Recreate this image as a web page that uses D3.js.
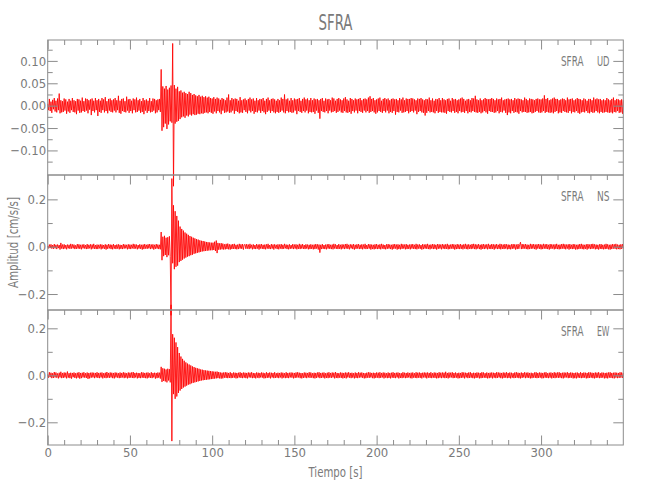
<!DOCTYPE html>
<html><head><meta charset="utf-8">
<script src="https://cdn.jsdelivr.net/npm/d3@7"></script>
<style>
html,body{margin:0;padding:0;background:#fff;}
text{font-family:"Liberation Sans Narrow","DejaVu Sans Condensed","Liberation Sans",sans-serif;fill:#7a7a7a;}
</style></head><body>
<svg id="c" width="650" height="500"></svg>
<script>
// ---- data (cm/s/s), one sample every 0.5 s starting at t = 0 s ----
const sampleInterval = 0.5;
const channels = ["UD", "NS", "EW"];
const station = "SFRA";
const ud = [
.004,-.010,.015,-.012,.009,-.016,.013,-.008,.017,-.013,.011,-.015,.016,-.010,.027,-.017,.012,-.015,.010,-.014,
.016,-.011,.014,-.018,.009,-.013,.015,-.016,.011,-.010,.017,-.014,.012,-.015,.010,-.019,.015,-.011,.014,-.016,
.011,-.015,.018,-.012,.010,-.014,.016,-.011,.015,-.017,.012,-.009,.014,-.021,.016,-.012,.011,-.015,.017,-.010,
.012,-.023,.015,-.014,.011,-.016,.017,-.010,.014,-.015,.019,-.012,.010,-.017,.015,-.011,.016,-.014,.012,-.015,
.014,-.011,.017,-.015,.012,-.010,.022,-.016,.011,-.018,.015,-.012,.016,-.014,.010,-.015,.020,-.011,.014,-.016,
.015,-.012,.011,-.017,.016,-.010,.014,-.015,.018,-.014,.012,-.011,.015,-.016,.010,-.014,.017,-.019,.012,-.011,
.014,-.016,.011,-.012,.017,-.015,.010,-.014,.016,-.011,.015,-.017,.012,-.015,.014,-.010,.015,-.014,.081,-.056,
.043,-.048,.038,-.040,.044,-.052,.036,-.042,.040,-.035,.045,-.038,.139,-.180,.046,-.040,.038,-.036,.042,-.034,
.032,-.030,.034,-.026,.029,-.024,.031,-.027,.028,-.022,.026,-.024,.031,-.020,.028,-.022,.024,-.019,.026,-.021,
.023,-.020,.021,-.018,.024,-.019,.020,-.017,.022,-.018,.019,-.016,.021,-.015,.018,-.017,.020,-.014,.017,-.016,
.016,-.018,.019,-.013,.015,-.017,.018,-.012,.016,-.015,.013,-.019,.017,-.011,.015,-.016,.012,-.015,.018,-.013,
.025,-.016,.012,-.015,.017,-.011,.014,-.018,.016,-.012,.015,-.014,.011,-.017,.019,-.015,.012,-.016,.014,-.010,
.016,-.014,.012,-.017,.015,-.011,.018,-.015,.014,-.012,.016,-.018,.011,-.014,.017,-.015,.012,-.011,.015,-.016,
.014,-.012,.017,-.015,.011,-.019,.015,-.014,.018,-.011,.012,-.016,.015,-.012,.016,-.015,.014,-.017,.011,-.014,
.015,-.016,.012,-.014,.018,-.011,.015,-.015,.025,-.017,.014,-.012,.016,-.015,.011,-.014,.017,-.016,.012,-.015,
.016,-.011,.014,-.019,.015,-.012,.017,-.014,.011,-.016,.015,-.012,.018,-.015,.014,-.011,.016,-.017,.012,-.014,
.017,-.015,.012,-.014,.016,-.018,.014,-.011,.015,-.016,.012,-.029,.015,-.012,.017,-.014,.011,-.015,.016,-.012,
.014,-.017,.015,-.011,.012,-.015,.018,-.014,.016,-.012,.011,-.016,.015,-.014,.017,-.011,.014,-.015,.012,-.016,
.016,-.012,.019,-.015,.014,-.016,.011,-.014,.017,-.018,.015,-.012,.012,-.015,.016,-.011,.014,-.017,.015,-.012,
.017,-.014,.012,-.016,.015,-.011,.016,-.015,.014,-.012,.018,-.016,.021,-.014,.015,-.012,.017,-.015,.012,-.018,
.014,-.015,.016,-.012,.018,-.014,.011,-.016,.015,-.012,.017,-.015,.014,-.011,.016,-.017,.012,-.014,.015,-.016,
.016,-.012,.014,-.020,.015,-.014,.012,-.015,.017,-.011,.014,-.016,.018,-.015,.012,-.014,.016,-.012,.015,-.017,
.015,-.014,.017,-.012,.016,-.015,.014,-.011,.012,-.019,.016,-.014,.015,-.012,.017,-.015,.014,-.016,.012,-.022,
.015,-.016,.014,-.012,.018,-.015,.012,-.014,.016,-.015,.011,-.017,.015,-.012,.014,-.016,.017,-.014,.012,-.015,
.017,-.015,.014,-.016,.012,-.018,.015,-.012,.016,-.014,.011,-.015,.017,-.012,.014,-.016,.015,-.014,.012,-.017,
.014,-.012,.016,-.015,.018,-.014,.015,-.016,.011,-.012,.014,-.017,.015,-.014,.012,-.015,.017,-.012,.016,-.014,
.022,-.015,.014,-.016,.012,-.014,.016,-.017,.012,-.015,.014,-.012,.017,-.015,.015,-.018,.014,-.012,.015,-.014,
.017,-.014,.015,-.016,.012,-.015,.016,-.012,.014,-.017,.015,-.014,.018,-.015,.012,-.011,.014,-.016,.015,-.021,
.016,-.015,.014,-.017,.015,-.012,.012,-.016,.017,-.014,.014,-.015,.016,-.018,.015,-.012,.014,-.015,.012,-.014,
.018,-.014,.015,-.016,.012,-.015,.016,-.014,.015,-.017,.014,-.016,.012,-.014,.015,-.012,.016,-.015,.014,-.016,
.014,-.015,.016,-.012,.023,-.016,.015,-.014,.017,-.015,.012,-.016,.014,-.015,.016,-.017,.018,-.014,.015,-.012,
.015,-.017,.012,-.015,.014,-.016,.016,-.012,.015,-.014,.012,-.015,.018,-.016,.014,-.012,.015,-.017,.016,-.014,
.012,-.015,.014,-.012,.017,-.016,.015,-.018,.014,-.015,.012,-.014,.016,-.015,.014,-.012,.011,-.016,.015,-.017,
.015,-.014,.012,-.016,.018,-.015,.014,-.012,.016,-.015,.014,-.017,.015,-.014,.012,-.016,.014,-.015,.012,-.014,
.017,-.015,.014,-.016,.012,-.015,.015,-.017,.018,-.014,.012,-.015,.015,-.012,.014,-.016,.012,-.015,.014,-.018,
.012];
const ns = [
.003,-.007,.009,-.006,.010,-.008,.007,-.009,.011,-.007,.008,-.010,.009,-.006,.007,-.012,.016,-.008,.009,-.010,
.010,-.008,.007,-.011,.009,-.007,.008,-.009,.012,-.008,.010,-.007,.009,-.010,.006,-.009,.011,-.008,.010,-.009,
.008,-.011,.009,-.007,.010,-.008,.007,-.010,.011,-.009,.008,-.007,.010,-.011,.009,-.008,.012,-.009,.007,-.010,
.009,-.010,.008,-.007,.010,-.011,.009,-.008,.007,-.009,.010,-.012,.008,-.009,.011,-.007,.009,-.010,.008,-.011,
.011,-.008,.007,-.010,.009,-.008,.010,-.011,.008,-.009,.007,-.010,.011,-.008,.009,-.007,.008,-.011,.010,-.009,
.009,-.010,.008,-.007,.012,-.009,.010,-.008,.009,-.011,.007,-.008,.010,-.009,.008,-.012,.009,-.010,.011,-.008,
.008,-.009,.010,-.007,.011,-.010,.009,-.008,.010,-.012,.008,-.009,.011,-.008,.009,-.010,.008,-.011,.062,-.057,
.042,-.040,.046,-.035,.038,-.044,.040,-.036,.044,-.042,-.290,.288,-.070,.175,-.095,.150,-.085,.130,-.080,.110,
-.065,.085,-.060,.075,-.055,.068,-.050,.060,-.046,.055,-.042,.050,-.040,.045,-.036,.042,-.034,.038,-.030,.035,
-.028,.032,-.026,.030,-.024,.027,-.022,.025,-.020,.024,-.019,.022,-.018,.020,-.017,.019,-.016,.018,-.015,.017,
-.015,.017,-.014,.021,-.018,.026,-.027,.016,-.013,.014,-.012,.015,-.011,.013,-.012,.010,-.011,.012,-.010,.013,
-.011,.010,-.012,.009,-.010,.011,-.009,.012,-.010,.008,-.011,.009,-.010,.012,-.008,.010,-.009,.011,-.012,.008,
.010,-.009,.011,-.008,.009,-.010,.012,-.007,.008,-.011,.010,-.009,.007,-.010,.011,-.008,.009,-.012,.010,-.008,
.011,-.009,.008,-.010,.009,-.011,.010,-.008,.012,-.009,.007,-.010,.011,-.008,.009,-.012,.010,-.007,.008,-.010,
.010,-.011,.009,-.008,.011,-.010,.008,-.009,.012,-.007,.009,-.010,.008,-.011,.010,-.009,.007,-.008,.011,-.010,
.009,-.008,.010,-.011,.008,-.009,.012,-.010,.009,-.008,.011,-.009,.007,-.010,.010,-.008,.009,-.011,.008,-.010,
.010,-.009,.008,-.011,.009,-.010,.011,-.008,.010,-.012,.009,-.025,.008,-.010,.011,-.009,.007,-.010,.009,-.011,
.010,-.008,.011,-.009,.008,-.010,.009,-.011,.012,-.008,.010,-.009,.007,-.010,.011,-.009,.008,-.011,.010,-.008,
.009,-.010,.011,-.008,.012,-.009,.008,-.011,.010,-.007,.009,-.010,.011,-.012,.008,-.009,.010,-.008,.011,-.010,
.008,-.009,.010,-.011,.009,-.008,.012,-.010,.007,-.009,.011,-.008,.010,-.012,.009,-.010,.008,-.011,.010,-.009,
.011,-.010,.008,-.009,.010,-.011,.012,-.008,.009,-.010,.007,-.011,.010,-.009,.011,-.008,.009,-.010,.008,-.012,
.010,-.009,.011,-.008,.009,-.012,.010,-.010,.008,-.011,.012,-.009,.010,-.008,.009,-.011,.011,-.010,.008,-.009,
.009,-.011,.010,-.008,.011,-.009,.008,-.010,.012,-.011,.009,-.008,.010,-.009,.007,-.012,.011,-.010,.009,-.008,
.010,-.009,.012,-.010,.008,-.011,.009,-.008,.011,-.010,.010,-.009,.008,-.012,.011,-.009,.010,-.008,.009,-.011,
.011,-.008,.009,-.010,.010,-.009,.012,-.011,.008,-.010,.009,-.008,.011,-.009,.010,-.012,.008,-.010,.011,-.009,
.009,-.010,.011,-.009,.008,-.011,.010,-.008,.012,-.010,.009,-.011,.010,-.009,.008,-.010,.011,-.008,.012,-.010,
.010,-.011,.009,-.008,.011,-.010,.008,-.012,.010,-.009,.011,-.010,.009,-.008,.010,-.011,.012,-.009,.008,-.010,
.011,-.009,.010,-.012,.009,-.008,.011,-.010,.008,-.009,.012,-.011,.010,-.009,.009,-.010,.011,-.008,.010,-.011,
.009,-.010,.008,-.011,.010,-.009,.011,-.008,.010,-.012,.009,-.010,.011,-.009,.008,.019,-.010,.011,-.009,.010,
-.008,.011,-.010,.009,-.011,.008,-.010,.012,-.009,.010,-.008,.011,-.010,.009,-.012,.010,-.008,.011,-.009,.010,
-.011,.009,-.010,.012,-.008,.010,-.009,.011,-.010,.008,-.012,.011,-.009,.010,-.008,.009,-.011,.010,-.009,.012,
-.010,.008,-.011,.009,-.010,.011,-.008,.012,-.009,.010,-.011,.009,-.008,.010,-.012,.011,-.009,.008,-.010,.011,
-.009,.010,-.012,.008,-.011,.009,-.010,.011,-.008,.012,-.010,.009,-.011,.008,-.009,.010,-.012,.011,-.008,.009,
-.010,.011,-.009,.012,-.008,.010,-.011,.009,-.010,.008,-.012,.010,-.009,.011,-.010,.008,-.011,.009,-.010,.012,
-.009,.010,-.011,.008,-.012,.009,-.010,.011,-.008,.010,-.009,.012,-.011,.009,-.010,.008,-.011,.010,-.009,.011,
-.008];
const ew = [
.004,-.010,.013,-.008,.011,-.012,.009,-.011,.014,-.009,.012,-.010,.008,-.013,.011,-.009,.015,-.012,.010,-.011,
.012,-.009,.011,-.013,.016,-.010,.009,-.012,.011,-.014,.010,-.008,.012,-.011,.009,-.013,.011,-.010,.013,-.014,
.010,-.012,.011,-.009,.013,-.010,.009,-.011,.012,-.015,.010,-.013,.011,-.010,.012,-.009,.011,-.012,.010,-.009,
.013,-.011,.010,-.012,.011,-.009,.012,-.013,.009,-.010,.011,-.012,.014,-.010,.010,-.011,.012,-.009,.011,-.012,
.010,-.013,.012,-.009,.011,-.010,.009,-.012,.012,-.011,.010,-.009,.013,-.012,.011,-.010,.009,-.013,.012,-.011,
.011,-.010,.012,-.011,.014,-.012,.010,-.009,.011,-.013,.010,-.011,.009,-.012,.013,-.010,.012,-.011,.010,-.012,
.011,-.013,.012,-.010,.009,-.011,.013,-.012,.010,-.009,.011,-.014,.010,-.012,.012,-.010,.011,-.014,.036,-.028,
.030,-.024,.028,-.026,.025,-.030,.028,-.022,.026,-.030,.300,-.280,.175,-.080,.160,-.100,.140,-.090,.120,-.075,
.095,-.065,.080,-.058,.070,-.052,.062,-.048,.055,-.044,.050,-.040,.046,-.038,.042,-.034,.038,-.032,.035,-.030,
.032,-.028,.030,-.026,.028,-.024,.025,-.022,.024,-.021,.022,-.020,.021,-.019,.020,-.018,.019,-.017,.018,-.016,
.017,-.015,.016,-.014,.015,-.013,.016,-.012,.014,-.013,.012,-.014,.011,-.013,.012,-.010,.013,-.011,.012,-.012,
.010,-.011,.013,-.012,.009,-.011,.012,-.010,.011,-.013,.010,-.012,.011,-.009,.013,-.011,.010,-.012,.012,-.010,
.011,-.012,.010,-.013,.012,-.009,.011,-.010,.013,-.012,.010,-.011,.009,-.013,.012,-.010,.011,-.012,.010,-.009,
.012,-.010,.011,-.013,.009,-.012,.013,-.011,.010,-.010,.012,-.013,.011,-.009,.010,-.012,.013,-.011,.009,-.010,
.011,-.012,.010,-.009,.012,-.013,.011,-.010,.009,-.012,.013,-.011,.010,-.012,.011,-.009,.012,-.010,.011,-.013,
.010,-.011,.012,-.010,.013,-.009,.011,-.012,.010,-.013,.009,-.011,.012,-.010,.011,-.012,.010,-.009,.013,-.011,
.012,-.010,.009,-.012,.011,-.013,.010,-.011,.012,-.009,.013,-.012,.010,-.011,.011,-.010,.012,-.013,.009,-.011,
.011,-.012,.013,-.010,.010,-.011,.012,-.009,.011,-.013,.014,-.011,.010,-.012,.009,-.010,.012,-.011,.011,-.013,
.010,-.011,.012,-.013,.011,-.009,.013,-.010,.010,-.012,.011,-.010,.009,-.013,.012,-.011,.010,-.012,.013,-.010,
.011,-.009,.012,-.011,.010,-.013,.009,-.012,.011,-.010,.013,-.011,.012,-.009,.010,-.012,.011,-.013,.010,-.011,
.012,-.010,.011,-.012,.013,-.011,.010,-.009,.012,-.013,.011,-.010,.009,-.012,.012,-.011,.010,-.013,.011,-.010,
.013,-.011,.010,-.012,.011,-.009,.012,-.013,.010,-.011,.009,-.012,.013,-.010,.011,-.012,.010,-.011,.012,-.009,
.010,-.012,.011,-.013,.012,-.010,.009,-.011,.013,-.012,.011,-.010,.012,-.011,.010,-.013,.011,-.009,.012,-.010,
.011,-.013,.012,-.010,.010,-.011,.013,-.012,.009,-.010,.012,-.011,.011,-.013,.010,-.012,.013,-.010,.011,-.012,
.012,-.010,.011,-.012,.015,-.011,.010,-.013,.012,-.010,.011,-.009,.013,-.012,.010,-.011,.012,-.010,.009,-.013,
.011,-.012,.010,-.011,.013,-.010,.012,-.013,.011,-.009,.010,-.012,.012,-.011,.013,-.010,.009,-.012,.011,-.013,
.010,-.011,.012,-.010,.011,-.013,.010,-.012,.013,-.011,.012,-.010,.009,-.011,.012,-.013,.010,-.012,.011,-.010,
.012,-.013,.011,-.010,.010,-.012,.013,-.011,.012,-.009,.011,-.012,.010,-.013,.012,-.011,.011,-.010,.013,-.012,
.010,-.011,.012,-.013,.011,-.010,.009,-.012,.012,-.011,.013,-.010,.011,-.012,.010,-.013,.012,-.011,.010,-.009,
.013,-.012,.011,-.010,.012,-.011,.010,-.013,.011,-.012,.009,-.010,.012,-.011,.013,-.012,.010,-.011,.012,-.010,
.011,-.013,.010,-.012,.012,-.010,.013,-.011,.009,-.012,.011,-.010,.012,-.013,.010,-.011,.013,-.012,.011,-.010,
.012,-.011,.013,-.010,.010,-.012,.011,-.013,.012,-.010,.011,-.009,.013,-.012,.010,-.011,.012,-.010,.011,-.013,
.010,-.012,.011,-.013,.012,-.010,.009,-.011,.013,-.012,.010,-.011,.012,-.010,.011,-.013,.010,-.012,.013,-.011,
.012,-.010,.011,-.012,.010,-.013,.012,-.011,.011,-.010,.013,-.012,.009,-.011,.012,-.010,.011,-.013,.010,-.012,
.011,-.013,.012,-.010,.013,-.011,.010,-.012,.011,-.013,.012,-.010,.011,-.012,.010,-.011,.013,-.010,.012,-.011,
.010];
const series = [ud, ns, ew];

// axis ranges and ticks
const timeDomain = [0, 350];
const timeMajor = [0, 50, 100, 150, 200, 250, 300];
const timeMinor = [10, 20, 30, 40, 60, 70, 80, 90, 110, 120, 130, 140, 160, 170, 180, 190,
  210, 220, 230, 240, 260, 270, 280, 290, 310, 320, 330, 340];
const ampDomains = [[-0.1549, 0.1467], [-0.2675, 0.303], [-0.2966, 0.278]];
const ampMajor = [[-0.10, -0.05, 0, 0.05, 0.10], [-0.2, 0, 0.2], [-0.2, 0, 0.2]];
const ampMinor = [[-0.125, -0.075, -0.025, 0.025, 0.075, 0.125], [-0.1, 0.1], [-0.1, 0.1]];
const ampLabels = [["\u22120.10", "\u22120.05", "0.00", "0.05", "0.10"], ["\u22120.2", "0.0", "0.2"], ["\u22120.2", "0.0", "0.2"]];

// ---- layout ----
const L = 47.7, R = 623.3;
const panelTop = [40, 175, 310], panelH = 135;
const axisCol = "#8c8c8c";
const svg = d3.select("#c");
const x = d3.scaleLinear().domain(timeDomain).range([L, R]);

series.forEach((vals, p) => {
  const top = panelTop[p], bot = top + panelH;
  const y = d3.scaleLinear().domain(ampDomains[p]).range([bot, top]);
  const line = d3.line().x((d, i) => x(i * sampleInterval)).y(d => y(d));
  svg.append("path").datum(vals).attr("d", line)
    .attr("fill", "none").attr("stroke", "#ff0000").attr("stroke-width", 0.85)
    .attr("stroke-linejoin", "bevel");
});

series.forEach((vals, p) => {
  const top = panelTop[p], bot = top + panelH;
  const y = d3.scaleLinear().domain(ampDomains[p]).range([bot, top]);
  const g = svg.append("g");
  const styleAxis = sel => {
    sel.select(".domain").remove();
    sel.selectAll("line").attr("stroke", axisCol);
    sel.selectAll("text").attr("fill", "#7a7a7a").style("font-size", "13px")
      .attr("font-family", null);
  };
  g.append("g").attr("transform", `translate(0,${top})`)
    .call(d3.axisTop(x).tickValues(timeMajor).tickSize(-9.5).tickFormat("")).call(styleAxis);
  g.append("g").attr("transform", `translate(0,${top})`)
    .call(d3.axisTop(x).tickValues(timeMinor).tickSize(-5).tickFormat("")).call(styleAxis);
  const lab = ampLabels[p];
  g.append("g").attr("transform", `translate(${L},0)`)
    .call(d3.axisLeft(y).tickValues(ampMajor[p]).tickSize(-10).tickPadding(1.5)
      .tickFormat((d, i) => lab[i])).call(styleAxis);
  g.append("g").attr("transform", `translate(${L},0)`)
    .call(d3.axisLeft(y).tickValues(ampMinor[p]).tickSize(-5).tickFormat("")).call(styleAxis);
  g.append("g").attr("transform", `translate(${R},0)`)
    .call(d3.axisRight(y).tickValues(ampMajor[p]).tickSize(-10).tickFormat("")).call(styleAxis);
  g.append("g").attr("transform", `translate(${R},0)`)
    .call(d3.axisRight(y).tickValues(ampMinor[p]).tickSize(-5).tickFormat("")).call(styleAxis);
  g.append("rect").attr("x", L).attr("y", top).attr("width", R - L).attr("height", panelH)
    .attr("fill", "none").attr("stroke", axisCol).attr("stroke-width", 1);
  g.append("text").attr("x", 561).attr("y", top + 26).attr("font-size", 14)
    .attr("textLength", 22.5).attr("lengthAdjust", "spacingAndGlyphs").text(station);
  g.append("text").attr("x", 609.5).attr("y", top + 26).attr("font-size", 14)
    .attr("text-anchor", "end").attr("textLength", 12.5).attr("lengthAdjust", "spacingAndGlyphs")
    .text(channels[p]);
  if (p === series.length - 1) {
    g.append("g").attr("transform", `translate(0,${bot})`)
      .call(d3.axisBottom(x).tickValues(timeMajor).tickSize(-9.5).tickPadding(3)).call(styleAxis);
    g.append("g").attr("transform", `translate(0,${bot})`)
      .call(d3.axisBottom(x).tickValues(timeMinor).tickSize(-5).tickFormat("")).call(styleAxis);
  }
});

svg.append("text").attr("x", 335.5).attr("y", 30).attr("text-anchor", "middle")
  .attr("font-size", 21).attr("textLength", 34).attr("lengthAdjust", "spacingAndGlyphs").text(station);
svg.append("text").attr("x", 335.5).attr("y", 477).attr("text-anchor", "middle")
  .attr("font-size", 14).attr("textLength", 54).attr("lengthAdjust", "spacingAndGlyphs").text("Tiempo [s]");
svg.append("text").attr("transform", "translate(18,242.5) rotate(-90)").attr("text-anchor", "middle")
  .attr("font-size", 14).attr("textLength", 91).attr("lengthAdjust", "spacingAndGlyphs").text("Amplitud [cm/s/s]");
</script>
</body></html>
